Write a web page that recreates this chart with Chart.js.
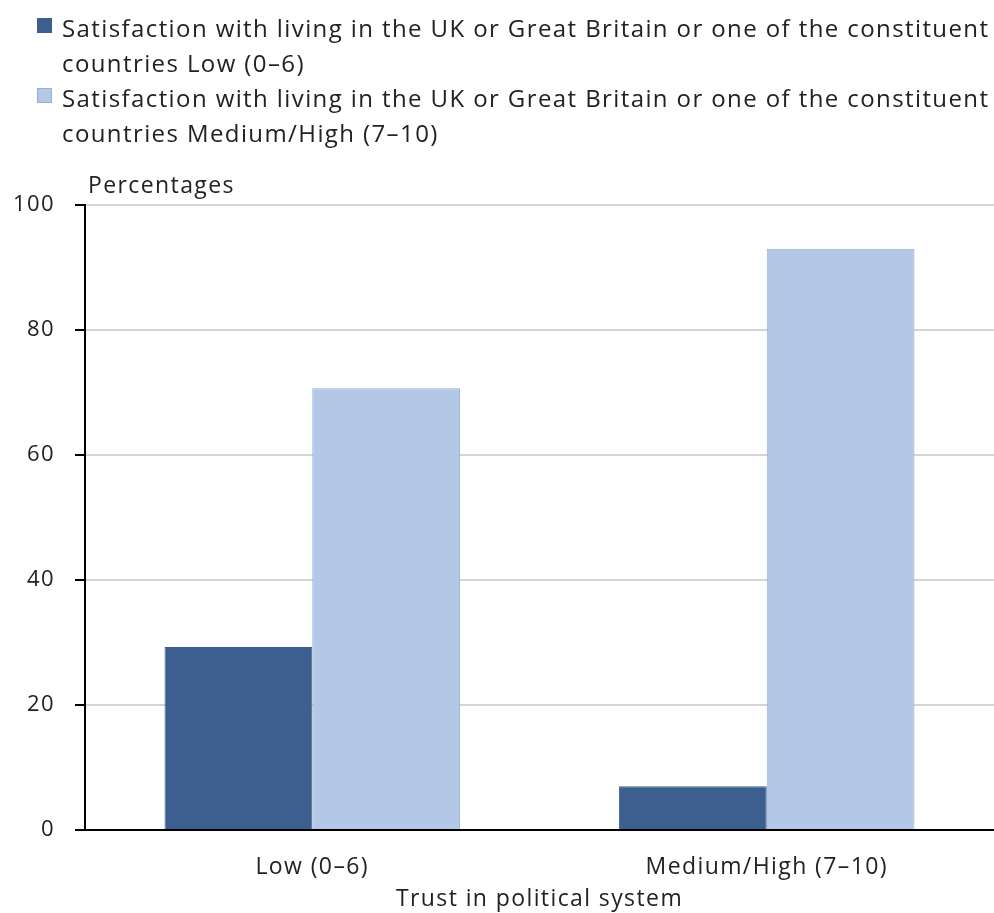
<!DOCTYPE html>
<html>
<head>
<meta charset="utf-8">
<script src="https://cdn.jsdelivr.net/npm/chart.js@4"></script>
<style>
  body { margin: 0; background: #fff; }
  #wrap { width: 994px; height: 913px; position: relative; }
</style>
</head>
<body>
<div id="wrap"><canvas id="grafico"></canvas></div>
<script>
const categorias = ['Low (0\u20136)', 'Medium/High (7\u201310)'];
const serieLow = [29.3, 7.0];
const serieHigh = [70.7, 93.0];
const rotulos = [
  'Satisfaction with living in the UK or Great Britain or one of the constituent countries Low (0\u20136)',
  'Satisfaction with living in the UK or Great Britain or one of the constituent countries Medium/High (7\u201310)'
];
const cores = ['#3d5f8f', '#b3c7e6'];
const bordas = ['#3d5f8f', '#94b0d6'];

const fonte = '"Open Sans", sans-serif';
const espaco = '1.4px';

// wider letter spacing, closer to the original rendering
const espacamento = {
  id: 'espacamento',
  beforeLayout(chart) { chart.ctx.letterSpacing = espaco; },
  beforeDraw(chart) { chart.ctx.letterSpacing = espaco; }
};

// legend + "Percentages" label drawn on the canvas, wrapping long text
const legendaPlugin = {
  id: 'legendaTopo',
  afterDraw(chart) {
    const ctx = chart.ctx;
    ctx.save();
    ctx.letterSpacing = espaco;
    ctx.font = '24px ' + fonte;
    ctx.textBaseline = 'alphabetic';
    let y = 37;
    chart.data.datasets.forEach(function(ds, i) {
      ctx.fillStyle = ds.backgroundColor;
      ctx.fillRect(37, y - 19, 15, 15);
      ctx.strokeStyle = ds.borderColor;
      ctx.lineWidth = 1;
      ctx.strokeRect(37.5, y - 18.5, 14, 14);
      ctx.fillStyle = '#222';
      const palavras = ds.label.split(' ');
      let linha = '';
      palavras.forEach(function(p) {
        const teste = linha ? linha + ' ' + p : p;
        if (ctx.measureText(teste).width > 935 && linha) {
          ctx.fillText(linha, 62, y);
          y += 35;
          linha = p;
        } else {
          linha = teste;
        }
      });
      ctx.fillText(linha, 62, y);
      y += 35;
    });
    ctx.font = '23px ' + fonte;
    ctx.fillText('Percentages', 88, 193);
    ctx.restore();
  }
};

new Chart(document.getElementById('grafico'), {
  type: 'bar',
  data: {
    labels: categorias,
    datasets: [{
      label: rotulos[0],
      data: serieLow,
      backgroundColor: cores[0],
      borderColor: bordas[0],
      borderWidth: 1
    }, {
      label: rotulos[1],
      data: serieHigh,
      backgroundColor: cores[1],
      borderColor: bordas[1],
      borderWidth: 1
    }]
  },
  options: {
    responsive: true,
    maintainAspectRatio: false,
    animation: false,
    layout: { padding: { top: 205, left: 10, right: 0, bottom: 0 } },
    datasets: { bar: { categoryPercentage: 0.65, barPercentage: 1 } },
    plugins: {
      legend: { display: false },
      tooltip: { enabled: false }
    },
    scales: {
      x: {
        afterFit(s) { s.height = 83; },
        grid: { display: false, drawTicks: false },
        border: { display: true, color: '#000', width: 2 },
        ticks: { color: '#222', font: { family: fonte, size: 23 }, padding: 24 },
        title: {
          display: true,
          text: 'Trust in political system',
          color: '#222',
          font: { family: fonte, size: 23 },
          padding: { top: 0, bottom: 0 }
        }
      },
      y: {
        afterFit(s) { s.width = 75; },
        min: 0,
        max: 100,
        ticks: { stepSize: 20, color: '#222', font: { family: fonte, size: 22 }, padding: 20 },
        grid: { color: '#d4d4d4', lineWidth: 2, tickColor: '#000', tickLength: 10 },
        border: { display: true, color: '#000', width: 2 }
      }
    }
  },
  plugins: [espacamento, legendaPlugin]
});
</script>
</body>
</html>
